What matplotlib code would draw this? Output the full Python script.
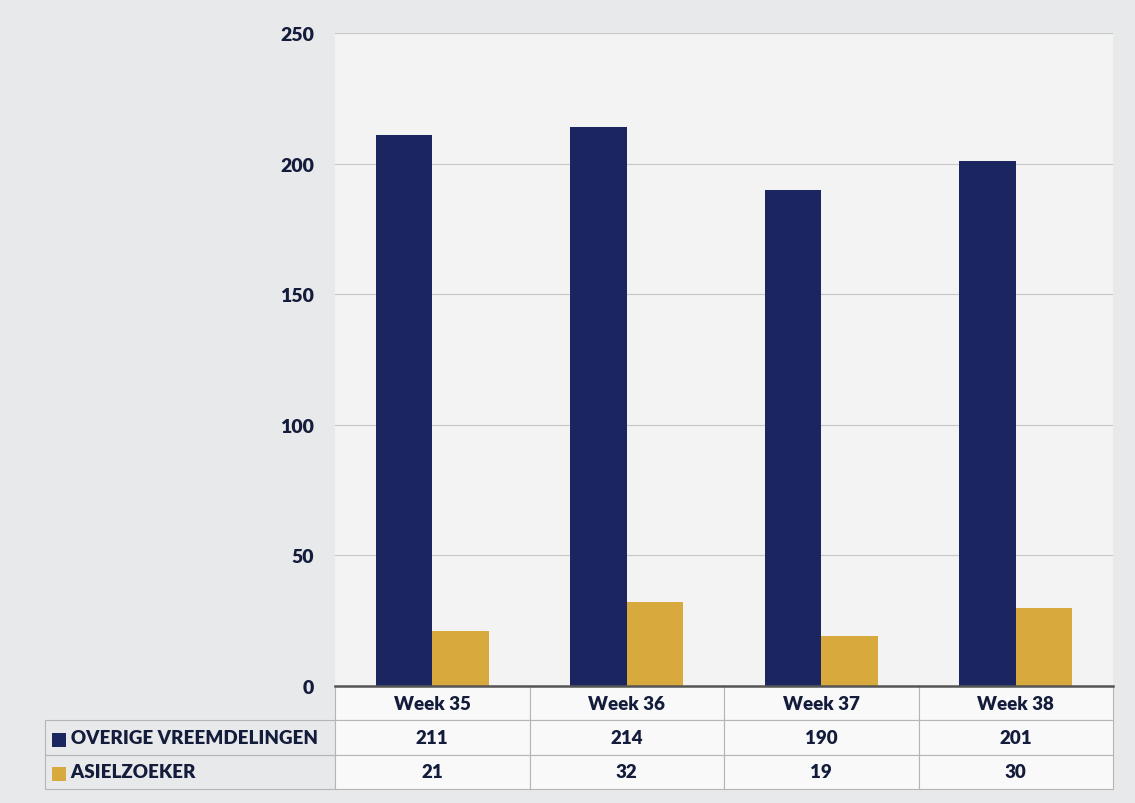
import matplotlib
matplotlib.use("Agg")
import matplotlib.pyplot as plt
import numpy as np
from matplotlib.patches import Rectangle

plt.rcParams['font.family'] = ['Lato', 'DejaVu Sans']

weeks = ["Week 35", "Week 36", "Week 37", "Week 38"]
series_names = ["OVERIGE VREEMDELINGEN", "ASIELZOEKER"]
overige = [211, 214, 190, 201]
asiel = [21, 32, 19, 30]
yticks = [0, 50, 100, 150, 200, 250]

navy = "#1b2660"
gold = "#d8a93c"
text_c = "#141c3c"
wt = "heavy"

fig = plt.figure(figsize=(11.35, 8.04), dpi=100, facecolor="#e8e9ea")
W, H = 1135, 804
left, right, top, bottom = 335, 1113, 34, 687
ax = fig.add_axes([left / W, 1 - bottom / H, (right - left) / W, (bottom - top) / H])
ax.set_facecolor("#f3f3f4")

x = np.arange(len(weeks))
bw = 0.29
ax.bar(x - bw / 2, overige, width=bw, color=navy, zorder=3)
ax.bar(x + bw / 2, asiel, width=bw, color=gold, zorder=3)

ax.set_xlim(-0.5, len(weeks) - 0.5)
ax.set_ylim(0, 250)
ax.set_yticks(yticks)
ax.set_yticklabels([str(v) for v in yticks], fontsize=14, fontweight=wt, color=text_c)
ax.tick_params(axis="y", length=0, pad=15)
ax.set_xticks([])
ax.grid(axis="y", color="#c8c8c8", linewidth=0.8, zorder=0)
for s in ["left", "right", "top"]:
    ax.spines[s].set_visible(False)
ax.spines["bottom"].set_color("#555555")
ax.spines["bottom"].set_linewidth(1.8)
ax.spines["bottom"].set_zorder(5)

# table
cell_text = [[""] + weeks,
             ["     " + series_names[0]] + [str(v) for v in overige],
             ["     " + series_names[1]] + [str(v) for v in asiel]]
ph = bottom - top
tab_left_px = 45
tab_h_px = 103
x0 = (tab_left_px - left) / (right - left)
wtot = (right - tab_left_px) / (right - left)
lab_w = (left - tab_left_px) / (right - tab_left_px)
col_w = (1 - lab_w) / len(weeks)
tbl = ax.table(cellText=cell_text, colWidths=[lab_w] + [col_w] * len(weeks),
               bbox=[x0, -tab_h_px / ph, wtot, tab_h_px / ph], cellLoc="center")
tbl.auto_set_font_size(False)
for (r, c), cell in tbl.get_celld().items():
    cell.set_edgecolor("#b5b5b5")
    cell.set_linewidth(0.8)
    cell.get_text().set_fontsize(13.5)
    cell.get_text().set_fontweight(wt)
    cell.get_text().set_color(text_c)
    if c == 0:
        cell.set_facecolor("none")
        cell.get_text().set_ha("left")
        cell._loc = "left"
        cell.PAD = 0.015
        if r == 0:
            cell.visible_edges = ""
    else:
        cell.set_facecolor("#f9f9f9")

# legend squares in table
row_h = tab_h_px / 3
for i, col in enumerate([navy, gold]):
    yc = bottom + row_h * (i + 1.5) + 2
    sq = Rectangle(((52 - left) / (right - left), 1 - (yc + 7 - top) / ph),
                   14 / (right - left), 14 / ph, transform=ax.transAxes,
                   facecolor=col, edgecolor="none", clip_on=False, zorder=6)
    ax.add_patch(sq)

fig.savefig("out.png", dpi=100, facecolor=fig.get_facecolor())
